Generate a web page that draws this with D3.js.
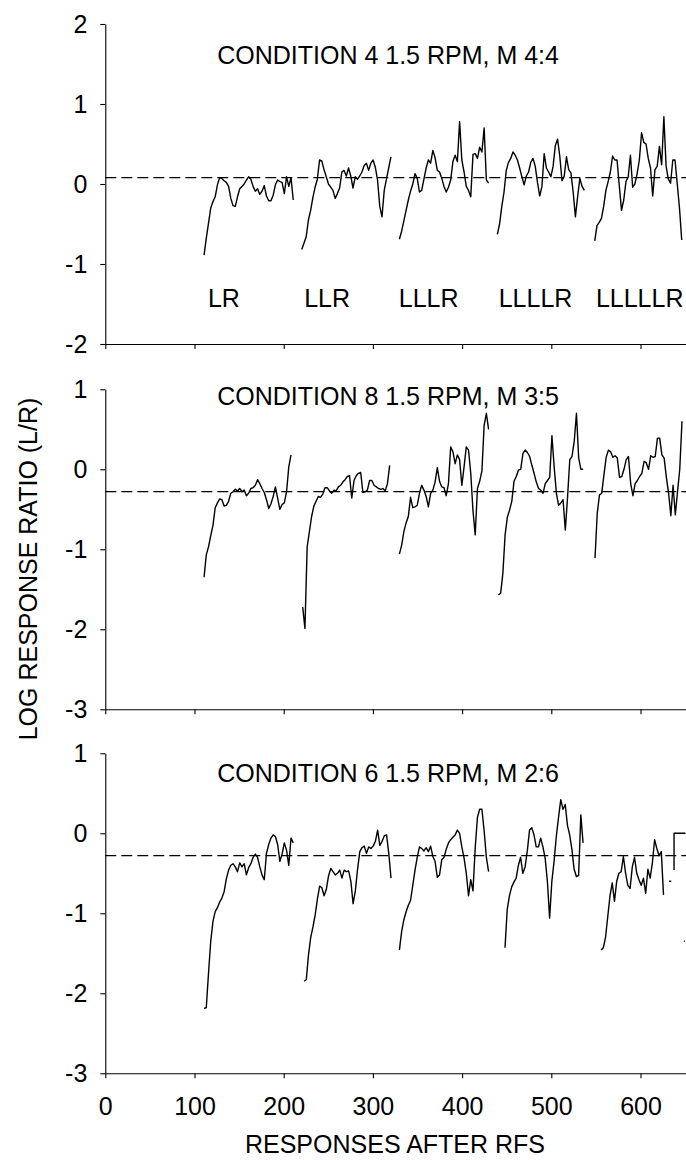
<!DOCTYPE html>
<html>
<head>
<meta charset="utf-8">
<script src="https://cdn.jsdelivr.net/npm/d3@7"></script>
<style>
  body { margin: 0; background: #fff; }
  svg { display: block; }
  text { font-family: "Liberation Sans", Arial, Helvetica, sans-serif; fill: #000; }
</style>
</head>
<body>
<div id="chart-container"></div>
<script>
// x axis ticks (responses after rfs)
const xTicks = [0, 100, 200, 300, 400, 500, 600];
const step = 2.5; // responses between read points

// panel titles and dashed reference levels
const panelTitles = ['CONDITION 4 1.5 RPM, M 4:4', 'CONDITION 8 1.5 RPM, M 3:5', 'CONDITION 6 1.5 RPM, M 2:6'];
const panelRefs = [0.08, -0.28, -0.28];
const panelDomains = [[-2, 2], [-3, 1], [-3, 1]];

// sequence labels (top panel only)
const segLabels = ['LR', 'LLR', 'LLLR', 'LLLLR', 'LLLLLR'];
const segLabelX = [115, 223, 329, 441, 550];

// segment start points, one list per panel
const starts4 = [110.7, 220.2, 329.7, 439.5, 548.7];
const starts8 = [110.7, 221.3, 329.7, 440.7, 549.0];
const starts6 = [110.7, 222.8, 329.7, 448.1, 555.8];

// CONDITION 4 (M 4:4)
const c4_LR = [-0.89, -0.68, -0.49, -0.30, -0.22, -0.16, -0.01, 0.08, 0.07, 0.04, 0.02, -0.03, -0.18, -0.27, -0.28, -0.16, -0.06, -0.03, 0.0, 0.05, 0.09, 0.06, -0.03, -0.09, -0.06, -0.13, -0.09, -0.02, -0.15, -0.21, -0.21, -0.14, -0.01, 0.05, 0.03, 0.02, -0.12, 0.09, -0.03, 0.08, -0.2];
const c4_LLR = [-0.82, -0.74, -0.66, -0.45, -0.33, -0.17, -0.04, 0.06, 0.3, 0.29, 0.18, 0.09, 0.0, -0.04, -0.08, -0.18, -0.12, -0.05, 0.15, 0.17, 0.1, 0.2, 0.1, -0.05, 0.09, 0.06, 0.1, 0.15, 0.23, 0.26, 0.17, 0.26, 0.3, 0.21, 0.05, -0.28, -0.41, -0.08, 0.06, 0.2, 0.34];
const c4_LLLR = [-0.69, -0.59, -0.46, -0.33, -0.2, -0.09, 0.0, 0.13, 0.07, -0.1, -0.08, 0.06, 0.2, 0.3, 0.26, 0.42, 0.33, 0.17, 0.15, 0.07, -0.03, -0.1, -0.04, 0.05, 0.28, 0.36, 0.28, 0.78, 0.3, 0.15, -0.03, -0.08, -0.16, 0.37, 0.38, 0.32, 0.46, 0.4, 0.7, 0.05, 0.01];
const c4_LLLLR = [-0.63, -0.5, -0.28, -0.1, 0.17, 0.27, 0.32, 0.4, 0.36, 0.3, 0.2, 0.09, -0.01, 0.1, 0.15, 0.27, 0.32, 0.22, 0.02, -0.15, -0.03, 0.38, 0.2, 0.15, 0.09, 0.22, 0.48, 0.56, 0.35, 0.04, 0.1, 0.34, 0.18, 0.14, -0.1, -0.41, -0.16, 0.07, -0.03, -0.08];
const c4_LLLLLR = [-0.71, -0.52, -0.48, -0.43, -0.28, -0.08, 0.03, 0.15, 0.35, 0.3, 0.3, -0.02, -0.33, -0.2, 0.03, 0.09, 0.36, -0.04, 0.0, 0.13, 0.3, 0.64, 0.52, 0.5, 0.32, 0.2, -0.15, 0.18, 0.22, 0.47, 0.24, 0.84, 0.22, 0.06, 0.01, 0.3, 0.3, 0.0, -0.3, -0.7];

// CONDITION 8 (M 3:5)
const c8_LR = [-1.35, -1.07, -0.97, -0.83, -0.7, -0.48, -0.42, -0.37, -0.38, -0.46, -0.45, -0.4, -0.3, -0.28, -0.25, -0.27, -0.24, -0.28, -0.26, -0.33, -0.3, -0.24, -0.23, -0.2, -0.13, -0.18, -0.24, -0.29, -0.38, -0.49, -0.43, -0.34, -0.22, -0.36, -0.5, -0.44, -0.42, -0.28, 0.03, 0.18];
const c8_LLR = [-1.72, -1.99, -0.97, -0.78, -0.59, -0.46, -0.4, -0.34, -0.35, -0.31, -0.23, -0.23, -0.27, -0.3, -0.26, -0.27, -0.22, -0.2, -0.16, -0.13, -0.09, -0.08, -0.36, -0.14, -0.08, -0.05, -0.04, -0.29, -0.28, -0.26, -0.14, -0.14, -0.2, -0.22, -0.24, -0.25, -0.24, -0.27, -0.18, 0.05];
const c8_LLLR = [-1.06, -0.95, -0.78, -0.67, -0.59, -0.35, -0.48, -0.47, -0.45, -0.3, -0.2, -0.26, -0.34, -0.47, -0.3, -0.26, -0.16, 0.02, -0.15, -0.22, -0.23, -0.33, -0.18, 0.28, 0.22, 0.07, 0.18, 0.12, -0.2, 0.03, 0.28, 0.24, -0.05, -0.52, -0.82, -0.24, -0.15, -0.02, 0.55, 0.7, 0.5];
const c8_LLLLR = [-1.57, -1.55, -1.3, -0.82, -0.6, -0.51, -0.4, -0.15, -0.09, -0.01, 0.0, 0.2, 0.24, 0.21, 0.16, 0.05, -0.05, -0.16, -0.24, -0.26, -0.3, -0.18, -0.14, -0.1, 0.42, 0.03, -0.3, -0.45, -0.42, -0.38, -0.76, -0.35, 0.12, 0.16, 0.35, 0.7, 0.14, 0.0, 0.0];
const c8_LLLLLR = [-1.11, -0.55, -0.32, -0.3, -0.07, 0.15, 0.24, 0.22, 0.15, 0.17, 0.14, -0.1, -0.09, 0.0, 0.12, 0.16, -0.18, -0.33, -0.18, -0.14, -0.09, -0.05, 0.1, 0.08, 0.0, 0.17, 0.15, 0.16, 0.39, 0.39, 0.18, 0.14, -0.1, -0.3, -0.58, -0.2, -0.57, -0.28, 0.0, 0.6];

// CONDITION 6 (M 2:6)
const c6_LR = [-2.19, -2.18, -1.75, -1.35, -1.1, -0.98, -0.93, -0.86, -0.81, -0.73, -0.57, -0.46, -0.4, -0.38, -0.42, -0.48, -0.37, -0.42, -0.38, -0.52, -0.43, -0.38, -0.3, -0.26, -0.3, -0.42, -0.52, -0.58, -0.25, -0.14, -0.06, -0.02, -0.04, -0.14, -0.35, -0.26, -0.12, -0.21, -0.4, -0.06, -0.12];
const c6_LLR = [-1.85, -1.83, -1.52, -1.3, -1.17, -1.02, -0.82, -0.66, -0.68, -0.78, -0.7, -0.53, -0.44, -0.48, -0.52, -0.5, -0.46, -0.56, -0.46, -0.48, -0.47, -0.6, -0.88, -0.72, -0.45, -0.23, -0.18, -0.16, -0.25, -0.17, -0.19, -0.16, -0.1, 0.04, -0.15, -0.1, -0.03, -0.02, -0.25, -0.56];
const c6_LLLR = [-1.46, -1.23, -1.08, -0.98, -0.9, -0.84, -0.65, -0.46, -0.3, -0.17, -0.19, -0.22, -0.18, -0.23, -0.16, -0.29, -0.35, -0.55, -0.52, -0.33, -0.3, -0.2, -0.12, -0.08, -0.05, -0.02, 0.04, 0.0, -0.17, -0.31, -0.5, -0.78, -0.58, -0.72, -0.18, 0.2, 0.3, 0.3, 0.03, -0.3, -0.48];
const c6_LLLLR = [-1.43, -0.95, -0.78, -0.67, -0.61, -0.56, -0.4, -0.3, -0.5, -0.42, -0.22, 0.04, 0.07, -0.02, -0.17, -0.17, -0.06, -0.17, -0.31, -0.6, -1.06, -0.6, -0.35, -0.04, 0.2, 0.42, 0.3, 0.36, 0.1, -0.02, -0.2, -0.45, -0.54, -0.53, 0.23, -0.12];
const c6_LLLLLR = [-1.46, -1.43, -1.3, -1.04, -0.78, -0.62, -0.85, -0.6, -0.5, -0.48, -0.29, -0.5, -0.65, -0.69, -0.42, -0.3, -0.5, -0.58, -0.65, -0.56, -0.75, -0.45, -0.56, -0.37, -0.08, -0.19, -0.28, -0.23, -0.77];
// loose bits at the right end of the bottom panel
const c6_tail = [
  [[631.9, -0.6], [634.5, -0.6]],
  [[637.6, -0.46], [637.6, 0.0], [650.5, 0.0]],
  [[648.6, -1.35], [649.6, -1.35]]
];

// Layout of the three stacked panels
const width = 686, height = 1160;
const panelTop = [24, 389.3, 753.3];
const panelHeight = 320;
const titleY = [1.506, 0.80, 0.64];
const titleX = 317;

const svg = d3.select('#chart-container').append('svg')
  .attr('width', width).attr('height', height);

const xScale = d3.scaleLinear().domain([0, 651]).range([105.3, 686]);

// turn a list of values into [x, y] points from a start x
function toPoints(start, values) {
  return values.map((v, i) => [start + i * step, v]);
}

const panels = [
  { series: [c4_LR, c4_LLR, c4_LLLR, c4_LLLLR, c4_LLLLLR], starts: starts4, extra: [] },
  { series: [c8_LR, c8_LLR, c8_LLLR, c8_LLLLR, c8_LLLLLR], starts: starts8, extra: [] },
  { series: [c6_LR, c6_LLR, c6_LLLR, c6_LLLLR, c6_LLLLLR], starts: starts6, extra: c6_tail }
];

panels.forEach((p, k) => {
  const dom = panelDomains[k];
  const yScale = d3.scaleLinear().domain(dom).range([panelTop[k] + panelHeight, panelTop[k]]);
  const g = svg.append('g');

  // y axis (plain hyphen for the minus sign, like the original)
  const yAxis = d3.axisLeft(yScale)
    .tickValues(d3.range(dom[0], dom[1] + 1))
    .tickFormat(d => String(d))
    .tickSize(5).tickSizeOuter(0).tickPadding(13);
  const yg = g.append('g').attr('transform', `translate(${xScale(0)},0)`).call(yAxis);

  // x axis, labels only on the bottom panel
  const xAxis = d3.axisBottom(xScale)
    .tickValues(xTicks)
    .tickSize(5).tickSizeOuter(0).tickPadding(19);
  if (k < 2) xAxis.tickFormat('');
  const xg = g.append('g').attr('transform', `translate(0,${yScale(dom[0])})`).call(xAxis);

  [yg, xg].forEach(a => {
    a.selectAll('path').attr('stroke', '#000').attr('stroke-width', 1.1);
    a.selectAll('line').attr('stroke', '#000').attr('stroke-width', 1.1);
    a.selectAll('text').attr('font-size', 25).attr('fill', '#000')
      .attr('font-family', '"Liberation Sans", Arial, sans-serif');
  });

  // dashed reference level
  g.append('line')
    .attr('x1', xScale(0)).attr('x2', xScale(651))
    .attr('y1', yScale(panelRefs[k])).attr('y2', yScale(panelRefs[k]))
    .attr('stroke', '#000').attr('stroke-width', 1.2)
    .attr('stroke-dasharray', '11,5');

  // the running log ratio traces
  const line = d3.line().x(d => xScale(d[0])).y(d => yScale(d[1]));
  const traces = p.series.map((vals, i) => toPoints(p.starts[i], vals)).concat(p.extra);
  g.selectAll('.trace')
    .data(traces)
    .join('path')
    .attr('class', 'trace')
    .attr('d', line)
    .attr('fill', 'none')
    .attr('stroke', '#000')
    .attr('stroke-width', 1.4)
    .attr('stroke-linejoin', 'round');

  // panel title
  g.append('text')
    .attr('x', xScale(titleX)).attr('y', yScale(titleY[k]))
    .attr('text-anchor', 'middle').attr('font-size', 25)
    .text(panelTitles[k]);

  // sequence labels under the top panel traces
  if (k === 0) {
    g.selectAll('.seg-label')
      .data(segLabels)
      .join('text')
      .attr('class', 'seg-label')
      .attr('x', (d, i) => xScale(segLabelX[i]))
      .attr('y', yScale(-1.54))
      .attr('font-size', 25)
      .text(d => d);
  }
});

// axis titles
svg.append('text')
  .attr('x', 395).attr('y', 1153)
  .attr('text-anchor', 'middle').attr('font-size', 25)
  .text('RESPONSES AFTER RFS');

svg.append('text')
  .attr('transform', 'translate(37,569) rotate(-90)')
  .attr('text-anchor', 'middle').attr('font-size', 25)
  .text('LOG RESPONSE RATIO (L/R)');
</script>
</body>
</html>
